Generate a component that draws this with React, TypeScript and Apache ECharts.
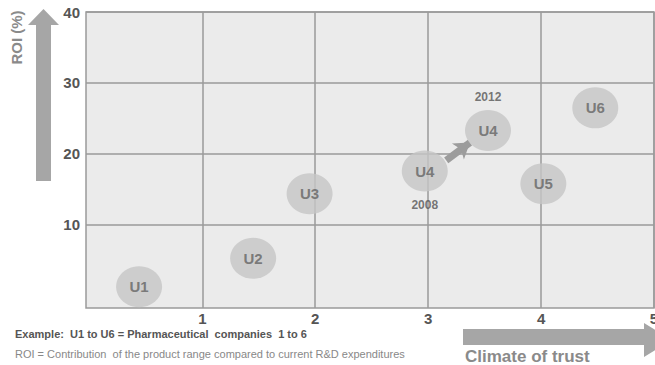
import React, { useEffect, useRef } from "react";
import * as echarts from "echarts";

const companies = ["U1", "U2", "U3", "U4", "U4", "U5", "U6"];
const xValues = [0.44, 1.45, 1.95, 2.97, 3.53, 4.02, 4.48];
const yValues = [1.3, 5.3, 14.4, 17.6, 23.3, 15.8, 26.5];
const yearLabels = [
  { name: "2008", x: 2.97, y: 17.6, position: "bottom" },
  { name: "2012", x: 3.53, y: 23.3, position: "top" },
];
const moveArrow = [[3.16, 19.1], [3.37, 21.6]];
const xTicks = [1, 2, 3, 4, 5];
const yTicks = [10, 20, 30, 40];

const FONT = '"Liberation Sans", Arial, sans-serif';

export default function App() {
  const ref = useRef<HTMLDivElement>(null);
  useEffect(() => {
    if (!ref.current) return;
    const chart = echarts.init(ref.current, null, { renderer: "svg" });
    chart.setOption({
      animation: false,
      backgroundColor: "#ffffff",
      textStyle: { fontFamily: FONT },
      grid: {
        left: 86,
        top: 12,
        right: 1,
        bottom: 57,
        outerBoundsMode: "none",
        containLabel: false,
        show: true,
        backgroundColor: "#ebebeb",
        borderColor: "#9a9a9a",
        borderWidth: 1.5,
      },
      xAxis: {
        type: "value",
        min: -0.03,
        max: 5,
        axisLine: { show: false },
        axisTick: { show: false, customValues: xTicks },
        axisLabel: {
          customValues: xTicks,
          fontSize: 15,
          fontWeight: "bold",
          color: "#555",
          margin: 3,
          fontFamily: FONT,
        },
        splitLine: { show: true, lineStyle: { color: "#9a9a9a", width: 1.5 } },
      },
      yAxis: {
        type: "value",
        min: -1.7,
        max: 40,
        axisLine: { show: false },
        axisTick: { show: false, customValues: yTicks },
        axisLabel: {
          customValues: yTicks,
          fontSize: 15,
          fontWeight: "bold",
          color: "#555",
          margin: 6,
          fontFamily: FONT,
        },
        splitLine: { show: true, lineStyle: { color: "#9a9a9a", width: 1.5 } },
      },
      series: [
        {
          type: "lines",
          coordinateSystem: "cartesian2d",
          silent: true,
          symbol: ["none", "arrow"],
          symbolSize: 15,
          lineStyle: { color: "#9c9c9c", width: 7, opacity: 1 },
          data: [{ coords: moveArrow }],
          z: 3,
        },
        {
          type: "scatter",
          symbol: "circle",
          symbolSize: [46, 41],
          itemStyle: { color: "#c6c6c6" },
          label: {
            show: true,
            position: "inside",
            formatter: (p: any) => p.name,
            fontSize: 15,
            fontWeight: "bold",
            color: "#646464",
            fontFamily: FONT,
          },
          data: companies.map((c, i) => ({ name: c, value: [xValues[i], yValues[i]] })),
          z: 4,
        },
        {
          type: "scatter",
          silent: true,
          symbol: "circle",
          symbolSize: [46, 41],
          itemStyle: { color: "rgba(0,0,0,0)" },
          data: yearLabels.map((d) => ({
            name: d.name,
            value: [d.x, d.y],
            label: {
              show: true,
              position: d.position,
              distance: 7,
              formatter: d.name,
              fontSize: 12,
              fontWeight: "bold",
              color: "#555",
              fontFamily: FONT,
            },
          })),
          z: 5,
        },
      ],
      graphic: [
        {
          type: "polygon",
          shape: {
            points: [
              [36, 181], [51, 181], [51, 25], [59, 25], [43.5, 9], [28, 25], [36, 25],
            ],
          },
          style: { fill: "#a6a6a6" },
        },
        {
          type: "text",
          x: 16.5,
          y: 37.5,
          rotation: Math.PI / 2,
          style: {
            text: "ROI (%)",
            fontSize: 15,
            fontWeight: "bold",
            fill: "#8a8a8a",
            fontFamily: FONT,
            align: "center",
            verticalAlign: "middle",
          },
        },
        {
          type: "polygon",
          shape: {
            points: [
              [463, 329], [644, 329], [644, 323], [672, 340], [644, 357], [644, 345], [463, 345],
            ],
          },
          style: { fill: "#a6a6a6" },
        },
        {
          type: "text",
          x: 465,
          y: 356.5,
          style: {
            text: "Climate of trust",
            fontSize: 17,
            fontWeight: "bold",
            fill: "#8a8a8a",
            fontFamily: FONT,
            verticalAlign: "middle",
          },
        },
        {
          type: "text",
          x: 15,
          y: 333.5,
          style: {
            text: "Example:  U1 to U6 = Pharmaceutical  companies  1 to 6",
            fontSize: 11,
            fontWeight: "bold",
            fill: "#555",
            fontFamily: FONT,
            verticalAlign: "middle",
          },
        },
        {
          type: "text",
          x: 15,
          y: 353.5,
          style: {
            text: "ROI = Contribution  of the product range compared to current R&D expenditures",
            fontSize: 11,
            fill: "#888",
            fontFamily: FONT,
            verticalAlign: "middle",
          },
        },
      ],
    });
    return () => chart.dispose();
  }, []);
  return (
    <div
      ref={ref}
      style={{ position: "fixed", left: 0, top: 0, width: 655, height: 365 }}
    />
  );
}
